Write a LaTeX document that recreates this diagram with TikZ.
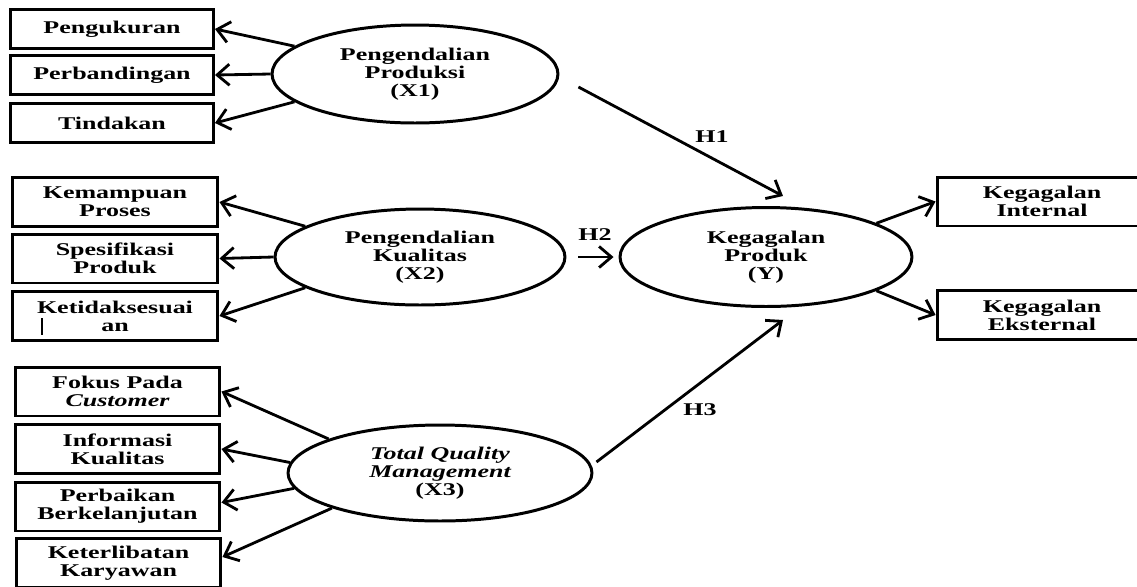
\documentclass[tikz,border=0pt]{standalone}
\usepackage{fontspec}
\newfontfamily\diafont{Liberation Serif}[FakeStretch=1.45]
\usetikzlibrary{arrows.meta,shapes.geometric}

\tikzset{
  txt/.style={font=\diafont\bfseries\fontsize{10.2}{10.3}\selectfont},
  ind/.style={txt, draw, line width=1.7pt, minimum width=4.1cm, minimum height=0.98cm, inner sep=1pt, align=center},
  ind1/.style={ind, minimum height=0.78cm},
  lat/.style={txt, draw, ellipse, line width=1.7pt, inner sep=0pt, align=center},
  link/.style={line width=1.6pt, -{Straight Barb[length=7pt,width=12pt]}}
}

\begin{document}
\begin{tikzpicture}[x=0.02cm, y=-0.02cm]
\useasboundingbox (0,0) rectangle (1137,586);

% latent variables
\node[lat, minimum width=5.72cm, minimum height=1.96cm] (X1) at (415,74) {Pengendalian\\Produksi\\(X1)};
\node[lat, minimum width=5.8cm, minimum height=1.92cm] (X2) at (420,257) {Pengendalian\\Kualitas\\(X2)};
\node[lat, minimum width=6.08cm, minimum height=1.92cm] (X3) at (440,473) {\itshape Total Quality\\\itshape Management\\(X3)};
\node[lat, minimum width=5.84cm, minimum height=1.98cm] (Y) at (766,257) {Kegagalan\\Produk\\(Y)};

% indicators X1
\node[ind1, minimum width=4.06cm] (peng) at (112,29) {Pengukuran};
\node[ind1, minimum width=4.06cm] (perb) at (112,75) {Perbandingan};
\node[ind1, minimum width=4.06cm] (tind) at (112,123) {Tindakan};

% indicators X2
\node[ind, minimum width=4.12cm] (kemp) at (115,202) {Kemampuan\\Proses};
\node[ind, minimum width=4.12cm] (spes) at (115,258.5) {Spesifikasi\\Produk};
\node[ind, minimum width=4.12cm] (ketid) at (115,316) {Ketidaksesuai\\an};
\draw[line width=1.7pt] (42,318) -- (42,335);

% indicators X3
\node[ind] (fokus) at (117.5,391.5) {Fokus Pada\\{\itshape Customer}};
\node[ind] (info) at (117.5,449) {Informasi\\Kualitas};
\node[ind] (perbk) at (117.5,506.5) {Perbaikan\\Berkelanjutan};
\node[ind] (kete) at (118.5,563) {Keterlibatan\\Karyawan};

% indicators Y
\node[ind, minimum width=4.2cm] (intern) at (1042,201.5) {Kegagalan\\Internal};
\node[ind, minimum width=4.2cm] (ekstern) at (1042,315) {Kegagalan\\Eksternal};

\draw[link] (X1.167) -- (peng.east);
\draw[link] (X1.west) -- (perb.east);
\draw[link] (X1.193) -- (tind.east);

\draw[link] (X2.165) -- (kemp.east);
\draw[link] (X2.west) -- (spes.east);
\draw[link] (X2.195) -- (ketid.east);

\draw[link] (X3.163) -- (fokus.east);
\draw[link] (X3.176) -- (info.east);
\draw[link] (X3.186) -- ([yshift=0.08cm]perbk.east);
\draw[link] (X3.198) -- ([yshift=0.12cm]kete.east);

\draw[link] (Y.17) -- (intern.west);
\draw[link] (Y.-17) -- (ekstern.west);

% hypotheses
\draw[link] ([shift={(19,13)}]X1.east) -- ([shift={(17,-10)}]Y.north);
\draw[link] ([xshift=0.24cm]X2.east) -- ([xshift=-0.1cm]Y.west);
\draw[link] ([shift={(3,-11)}]X3.east) -- ([shift={(17,12)}]Y.south);
\node[txt] (h1) at (712,137) {H1};
\node[txt] (h2) at (595,235) {H2};
\node[txt] (h3) at (700,410) {H3};
\end{tikzpicture}
\end{document}
